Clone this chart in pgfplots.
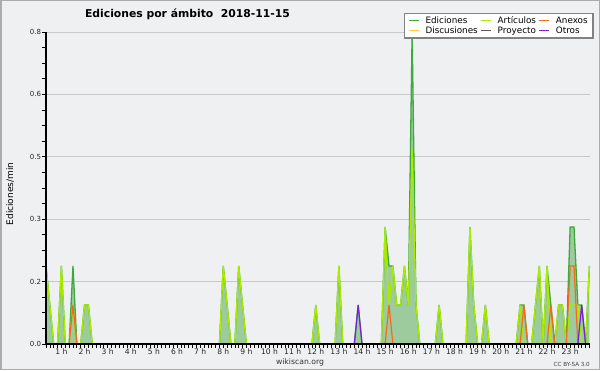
\documentclass[border=0pt]{standalone}
\usepackage{pgfplots}
\usepackage{pgfplotstable}
\usepackage{fontspec}
\setmainfont{DejaVu Sans}
\pgfplotsset{compat=1.18}
\definecolor{bgc}{RGB}{239,240,242}
\definecolor{fillg}{RGB}{157,203,157}
\definecolor{edc}{RGB}{60,170,60}
\definecolor{artc}{RGB}{170,235,0}
\definecolor{anxc}{RGB}{245,105,25}
\definecolor{otrc}{RGB}{120,30,220}
\definecolor{disc}{RGB}{255,205,60}
\definecolor{proc}{RGB}{90,90,90}
\definecolor{gridc}{RGB}{200,200,200}

\pgfplotstableread{
j v
2 0.2
3 0.1
4 0
5 0
6 0.2
7 0
8 0
9 0.2
10 0
11 0
12 0.1
13 0.1
14 0
47 0
48 0.2
49 0.1
50 0
51 0
52 0.2
53 0.1
54 0
71 0
72 0.1
73 0
77 0
78 0.2
79 0
82 0
83 0.1
84 0
89 0
90 0.3
91 0.2
92 0.2
93 0.1
94 0.1
95 0.2
96 0.1
97 0.8
98 0.1
99 0
103 0
104 0.1
105 0
111 0
112 0.3
113 0.1
114 0
115 0
116 0.1
117 0
124 0
125 0.1
126 0.1
127 0
128 0
129 0.1
130 0.2
131 0
132 0.2
133 0.1
134 0
135 0.1
136 0.1
137 0
138 0.3
139 0.3
140 0.1
141 0.1
142 0
143 0.2
}\ediciones

\pgfplotstableread{
j v
2 0.2
3 0.1
4 0
5 0
6 0.2
7 0
8 0
9 0.1
10 0
11 0
12 0.1
13 0.1
14 0
47 0
48 0.2
49 0.1
50 0
51 0
52 0.2
53 0.1
54 0
71 0
72 0.1
73 0
77 0
78 0.2
79 0
89 0
90 0.3
91 0.1
92 0.2
93 0.1
94 0.1
95 0.2
96 0.1
97 0.5
98 0.1
99 0
103 0
104 0.1
105 0
111 0
112 0.3
113 0.1
114 0
115 0
116 0.1
117 0
124 0
125 0.1
126 0
128 0
129 0.1
130 0.2
131 0
132 0.2
133 0
134 0
135 0.1
136 0.1
137 0
138 0.1
139 0.1
140 0.1
141 0
142 0
143 0.2
}\articulos

\pgfplotstableread{
j v
8 0
9 0.1
10 0
90 0
91 0.1
92 0
125 0
126 0.1
127 0
132 0
133 0.1
134 0
137 0
138 0.2
139 0.2
140 0
}\anexos

\pgfplotstableread{
j v
82 0
83 0.1
84 0
140 0
141 0.1
142 0
}\otros

\begin{document}
\begin{tikzpicture}[x=1pt,y=1pt]
\fill[bgc] (0,0) rectangle (600,370);
\draw[gray!65, line width=1.5pt] (0.75,0.75) rectangle (599.25,369.25);
\node[anchor=base, font=\bfseries\fontsize{10.8}{12}\selectfont] at (187.5,352.7) {Ediciones por ámbito\ \ 2018-11-15};
\node[rotate=90, font=\fontsize{9}{10}\selectfont] at (10,176) {Ediciones/min};
\node[anchor=base, font=\fontsize{7.7}{9}\selectfont, text=black!80] at (300,6) {wikiscan.org};
\node[anchor=base east, font=\fontsize{5.6}{7}\selectfont, text=black!75, inner sep=0pt] at (590,4) {CC BY-SA 3.0};
\begin{axis}[
  at={(46pt,26pt)}, anchor=south west,
  scale only axis, width=544pt, height=312pt,
  xmin=2, xmax=143.15, ymin=0, ymax=0.8,
  clip=false,
  axis x line*=bottom, axis y line*=left,
  axis line style={draw=none},
  xtick={6,12,...,138},
  xticklabels={1 h,2 h,3 h,4 h,5 h,6 h,7 h,8 h,9 h,10 h,11 h,12 h,13 h,14 h,15 h,16 h,17 h,18 h,19 h,20 h,21 h,22 h,23 h},
  minor xtick={2,3,...,143},
  ytick={0,0.16,0.32,0.48,0.64,0.8},
  yticklabels={0.0,0.2,0.3,0.5,0.6,0.8},
  minor ytick={0.04,0.08,0.12,0.2,0.24,0.28,0.36,0.4,0.44,0.52,0.56,0.6,0.68,0.72,0.76},
  tick align=outside,
  major tick length=3.8pt, minor tick length=3.8pt,
  tick style={black, line width=0.7pt},
  ymajorgrids, grid style={draw=gridc, line width=0.8pt},
  /pgf/number format/assume math mode=true,
  xticklabel style={font=\fontsize{7.6}{8}\selectfont, inner sep=0.5pt, text=black!85},
  yticklabel style={font=\fontsize{7}{8}\selectfont, inner sep=1pt, text=black!85},
  legend columns=3,
  legend style={at={(1.00735,1.0619)}, anchor=north east,
    draw={rgb,255:red,130;green,130;blue,130}, line width=1.6pt, fill=white,
    font=\fontsize{8.8}{9}\selectfont, inner xsep=3.5pt, inner ysep=1pt,
    row sep=-2.5pt,
    /tikz/every odd column/.append style={column sep=4.5pt},
    /tikz/every even column/.append style={column sep=0.5pt},
    cells={anchor=west}},
  legend cell align=left,
  legend image code/.code={\draw[#1, line width=0.9pt] (0pt,0pt) -- (10pt,0pt);},
]
\addplot[fill=fillg, draw=none, forget plot] table[x=j,y=v] {\ediciones} \closedcycle;
\addplot[edc, line width=1.3pt] table[x=j,y=v] {\ediciones};
\addlegendentry{Ediciones}
\addplot[artc, line width=1.3pt] table[x=j,y=v] {\articulos};
\addlegendentry{Artículos}
\addplot[anxc, line width=1.2pt] table[x=j,y=v] {\anexos};
\addlegendentry{Anexos}
\addlegendimage{disc}
\addlegendentry{Discusiones}
\addlegendimage{proc}
\addlegendentry{Proyecto}
\addplot[otrc, line width=1.2pt] table[x=j,y=v] {\otros};
\addlegendentry{Otros}
\draw[black, line width=1.2pt] (rel axis cs:0,0) -- (rel axis cs:1,0);
\draw[black, line width=1.2pt] (rel axis cs:0,0) -- (rel axis cs:0,1);
\end{axis}
\end{tikzpicture}
\end{document}
